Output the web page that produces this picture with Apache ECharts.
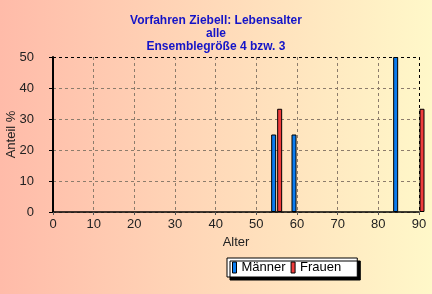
<!DOCTYPE html>
<html lang="de">
<head>
<meta charset="UTF-8">
<title>Lebensalter</title>
<style>
  * { margin: 0; padding: 0; }
  #chart { width: 432px; height: 294px; }
</style>
</head>
<body>
<div id="chart"></div>
<script src="https://cdn.jsdelivr.net/npm/echarts@6/dist/echarts.min.js"></script>
<script>
// Werte
const titleLines = ['Vorfahren Ziebell: Lebensalter', 'alle', 'Ensemblegröße 4 bzw. 3'];
const maennerAlter = [55, 60, 85];
const maennerAnteil = [25, 25, 50];
const frauenAlter = [55, 90];
const frauenAnteil = [33.3, 33.3];

const chart = echarts.init(document.getElementById('chart'));

const font = 'Liberation Sans, Arial, sans-serif';
const gridCol = '#8c7c6c';

chart.setOption({
  backgroundColor: {
    type: 'linear', x: 0, y: 0, x2: 1, y2: 0,
    colorStops: [{ offset: 0, color: '#ffbba9' }, { offset: 1, color: '#fff8c9' }]
  },
  textStyle: { fontFamily: font },
  title: {
    text: titleLines.join('\n'),
    left: 'center',
    top: 9,
    textStyle: { fontSize: 12, fontWeight: 'bold', color: '#1414c8', lineHeight: 13, fontFamily: font }
  },
  legend: {
    left: 227,
    top: 258,
    padding: [3, 16, 3, 5],
    icon: 'rect',
    itemWidth: 4,
    itemHeight: 11,
    itemGap: 5,
    backgroundColor: '#fff',
    borderColor: '#000',
    borderWidth: 1,
    borderRadius: 0,
    shadowColor: '#000',
    shadowBlur: 0,
    shadowOffsetX: 3,
    shadowOffsetY: 3,
    textStyle: { fontSize: 13, color: '#000' },
    itemStyle: { borderColor: '#000', borderWidth: 1 },
    data: ['Männer', 'Frauen']
  },
  grid: { left: 53, right: 13, top: 57, bottom: 82, outerBoundsMode: 'none', containLabel: false },
  xAxis: {
    type: 'value',
    min: 0, max: 90, interval: 10,
    name: 'Alter',
    nameLocation: 'middle',
    nameGap: 24,
    nameMoveOverlap: false,
    nameTextStyle: { fontSize: 13, color: '#222' },
    axisLine: { onZero: false, lineStyle: { color: '#000', width: 1.5 } },
    axisTick: { show: true, length: 3, lineStyle: { color: '#555' } },
    axisLabel: { fontSize: 13, color: '#222', margin: 6 },
    splitLine: {
      show: true,
      lineStyle: {
        type: [3, 3], width: 1,
        color: ['#000', gridCol, gridCol, gridCol, gridCol, gridCol, gridCol, gridCol, gridCol, '#000']
      }
    }
  },
  yAxis: {
    type: 'value',
    min: 0, max: 50, interval: 10,
    offset: 11,
    name: 'Anteil %',
    nameLocation: 'middle',
    nameGap: 24,
    nameMoveOverlap: false,
    nameTextStyle: { fontSize: 13, color: '#222' },
    axisLine: { show: true, lineStyle: { color: '#000', width: 2 } },
    axisTick: { show: true, length: 4, lineStyle: { color: '#000' } },
    axisLabel: { fontSize: 13, color: '#222', margin: 8 },
    splitLine: {
      show: true,
      lineStyle: {
        type: [3, 3], width: 1,
        color: [gridCol, gridCol, gridCol, gridCol, gridCol, '#000']
      }
    }
  },
  series: [
    {
      name: 'Männer',
      type: 'bar',
      clip: false,
      barWidth: 5,
      barGap: '20%',
      itemStyle: { color: '#0a7cf0', borderColor: '#000', borderWidth: 1 },
      data: maennerAlter.map((a, i) => [a, maennerAnteil[i]])
    },
    {
      name: 'Frauen',
      type: 'bar',
      clip: false,
      barWidth: 5,
      barGap: '20%',
      itemStyle: { color: '#f03c3c', borderColor: '#000', borderWidth: 1 },
      data: frauenAlter.map((a, i) => [a, frauenAnteil[i]])
    }
  ]
});
</script>
</body>
</html>
